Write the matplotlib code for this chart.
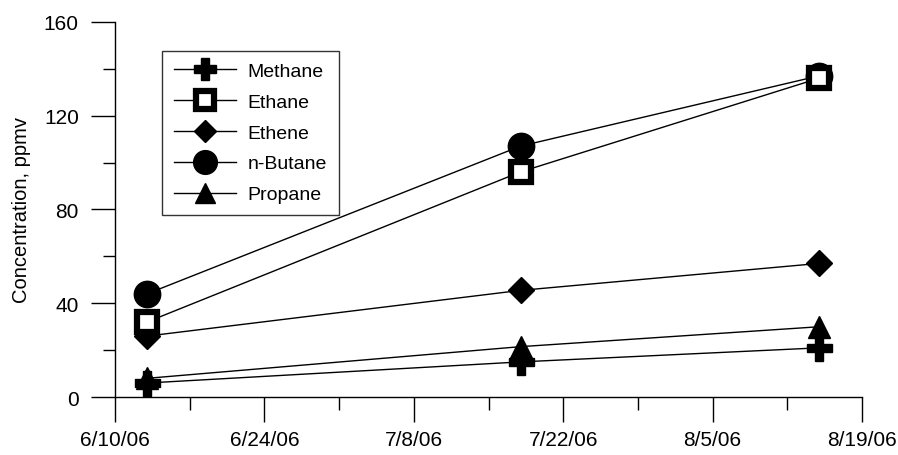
import datetime as dt
import matplotlib.pyplot as plt
import matplotlib.dates as mdates

plt.rcParams['font.family'] = ['Liberation Sans', 'DejaVu Sans']

dates = [dt.date(2006, 6, 13), dt.date(2006, 7, 18), dt.date(2006, 8, 15)]
methane = [6, 15, 21]
ethane = [32, 96, 136]
ethene = [26, 45.5, 57]
butane = [44, 107, 137]
propane = [8, 21.5, 30]

fig = plt.figure(figsize=(8.98, 4.56), dpi=100)
ax = fig.add_axes([0.128, 0.127, 0.832, 0.823])

ax.plot(dates, methane, '-', color='black', lw=1, marker='P', ms=18, mfc='black', mec='black', label='Methane', zorder=3)
ax.plot(dates, ethane, '-', color='black', lw=1, marker='s', ms=14, mfc='white', mec='black', mew=4.5, label='Ethane', zorder=5)
ax.plot(dates, ethene, '-', color='black', lw=1, marker='D', ms=13, mfc='black', mec='black', label='Ethene', zorder=3)
ax.plot(dates, butane, '-', color='black', lw=1, marker='o', ms=19, mfc='black', mec='black', label='n-Butane', zorder=4)
ax.plot(dates, propane, '-', color='black', lw=1, marker='^', ms=16, mfc='black', mec='black', label='Propane', zorder=3)

ax.set_xlim(dt.date(2006, 6, 10), dt.date(2006, 8, 19))
ax.set_ylim(0, 160)
ax.set_yticks([0, 40, 80, 120, 160])
ax.set_yticks([20, 60, 100, 140], minor=True)
major = [dt.date(2006, 6, 10) + dt.timedelta(days=14 * i) for i in range(6)]
minor = [dt.date(2006, 6, 17) + dt.timedelta(days=14 * i) for i in range(5)]
ax.set_xticks(major)
ax.set_xticks(minor, minor=True)
ax.xaxis.set_major_formatter(mdates.DateFormatter('%-m/%-d/%y'))

for s in ['top', 'right']:
    ax.spines[s].set_visible(False)
ax.spines['left'].set_linewidth(1)
ax.spines['bottom'].set_linewidth(1)
ax.tick_params(which='major', direction='out', length=18, width=1, labelsize=15)
ax.tick_params(which='minor', direction='out', length=9, width=1)
ax.tick_params(axis='y', which='major', length=17, pad=9)
ax.tick_params(axis='x', which='major', pad=6)
ax.set_ylabel('Concentration, ppmv', fontsize=14.5)
ax.yaxis.set_label_coords(-0.112, 0.5)

leg = ax.legend(loc='upper left', bbox_to_anchor=(0.063, 0.923), borderaxespad=0,
                fontsize=14, frameon=True, fancybox=False, edgecolor='black',
                handlelength=3.2, handletextpad=0.6, borderpad=0.6,
                labelspacing=0.68, markerscale=0.9)
leg.get_frame().set_linewidth(1)

fig.savefig('out.png', dpi=100)
